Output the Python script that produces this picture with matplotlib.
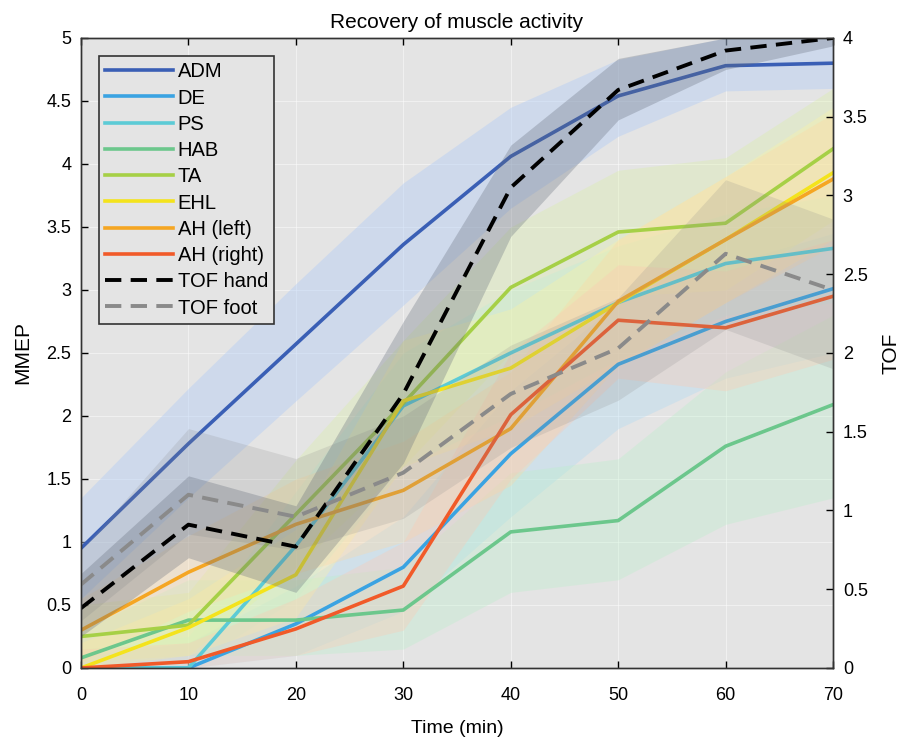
import matplotlib
matplotlib.use("Agg")
import matplotlib.pyplot as plt
import numpy as np

plt.rcParams['font.family'] = ['Liberation Sans', 'DejaVu Sans']

time = [0, 10, 20, 30, 40, 50, 60, 70]

# MMEP series (left axis)
adm = [0.95, 1.78, 2.57, 3.36, 4.06, 4.54, 4.78, 4.80]
de = [0.0, 0.0, 0.35, 0.80, 1.70, 2.41, 2.75, 3.01]
ps = [0.0, 0.0, 0.97, 2.08, 2.50, 2.90, 3.21, 3.33]
hab = [0.08, 0.38, 0.38, 0.46, 1.08, 1.17, 1.76, 2.09]
ta = [0.25, 0.34, 1.22, 2.10, 3.02, 3.46, 3.53, 4.12]
ehl = [0.0, 0.32, 0.74, 2.12, 2.38, 2.90, 3.40, 3.93]
ah_left = [0.30, 0.76, 1.14, 1.41, 1.90, 2.91, 3.40, 3.88]
ah_right = [0.0, 0.05, 0.31, 0.65, 2.01, 2.76, 2.70, 2.95]

# MMEP spread bands
adm_lo = [0.55, 1.35, 2.12, 2.88, 3.65, 4.22, 4.58, 4.60]
adm_hi = [1.35, 2.22, 3.05, 3.85, 4.45, 4.83, 5.00, 5.00]
de_lo = [0.0, 0.0, 0.10, 0.45, 1.20, 1.90, 2.30, 2.50]
de_hi = [0.10, 0.20, 0.65, 1.20, 2.20, 2.90, 3.20, 3.45]
ps_lo = [0.0, 0.0, 0.55, 1.60, 2.00, 2.45, 2.80, 2.90]
ps_hi = [0.15, 0.25, 1.40, 2.50, 3.00, 3.35, 3.60, 3.75]
hab_lo = [0.0, 0.10, 0.10, 0.15, 0.60, 0.70, 1.14, 1.35]
hab_hi = [0.30, 0.70, 0.70, 0.80, 1.55, 1.66, 2.35, 2.80]
ta_lo = [0.05, 0.10, 0.80, 1.60, 2.50, 2.95, 3.00, 3.55]
ta_hi = [0.50, 0.60, 1.65, 2.60, 3.50, 3.95, 4.05, 4.60]
ehl_lo = [0.0, 0.10, 0.40, 1.60, 1.90, 2.40, 2.90, 3.40]
ehl_hi = [0.20, 0.55, 1.10, 2.60, 2.85, 3.40, 3.90, 4.45]
ahl_lo = [0.05, 0.45, 0.75, 1.00, 1.45, 2.40, 2.90, 3.35]
ahl_hi = [0.55, 1.05, 1.50, 1.80, 2.35, 3.40, 3.90, 4.40]
ahr_lo = [0.0, 0.0, 0.10, 0.30, 1.50, 2.30, 2.20, 2.45]
ahr_hi = [0.15, 0.20, 0.55, 1.00, 2.50, 3.20, 3.15, 3.40]

# TOF series (right axis)
tof_hand = [0.38, 0.91, 0.77, 1.74, 3.05, 3.67, 3.92, 4.00]
tof_foot = [0.53, 1.10, 0.96, 1.24, 1.74, 2.03, 2.63, 2.40]
hand_lo = [0.20, 0.70, 0.48, 1.30, 2.74, 3.48, 3.80, 3.95]
hand_hi = [0.60, 1.22, 1.03, 2.20, 3.32, 3.87, 4.00, 4.00]
foot_lo = [0.30, 0.85, 0.75, 0.95, 1.40, 1.70, 2.15, 1.90]
foot_hi = [0.75, 1.52, 1.33, 1.60, 2.05, 2.35, 3.10, 2.85]

labels = ['ADM', 'DE', 'PS', 'HAB', 'TA', 'EHL', 'AH (left)', 'AH (right)', 'TOF hand', 'TOF foot']
colors = ['#3a5fb5', '#3aa3e2', '#5ccbd6', '#6cc78c', '#a6d046', '#f4e31c', '#f5a623', '#f15a29', '#000000', '#8a8a8a']
band_colors = ['#b4cdf5', '#a8d8f5', '#b0ecf0', '#b8f0c8', '#d8f0a0', '#fff5a0', '#ffd8a0', '#ffc8b0']

mmep = [adm, de, ps, hab, ta, ehl, ah_left, ah_right]
mmep_lo = [adm_lo, de_lo, ps_lo, hab_lo, ta_lo, ehl_lo, ahl_lo, ahr_lo]
mmep_hi = [adm_hi, de_hi, ps_hi, hab_hi, ta_hi, ehl_hi, ahl_hi, ahr_hi]

bg = '#e4e4e4'
fig = plt.figure(figsize=(9, 7.39), dpi=100)
ax = fig.add_axes([0.09, 0.0961, 0.8356, 0.8525])
ax.set_facecolor(bg)
ax2 = ax.twinx()

handles = []
for i, (lo, hi, bc) in enumerate(zip(mmep_lo, mmep_hi, band_colors)):
    ax.fill_between(time, lo, hi, color=bc, alpha=0.45 if i == 0 else 0.32, linewidth=0)
for vals, c, lab in zip(mmep, colors[:8], labels[:8]):
    h, = ax.plot(time, vals, color=c, lw=2.6, label=lab)
    handles.append(h)

ax2.fill_between(time, foot_lo, foot_hi, color='#8c8c8c', alpha=0.2, linewidth=0)
ax2.fill_between(time, hand_lo, hand_hi, color='#626a78', alpha=0.3, linewidth=0)
h1, = ax2.plot(time, tof_hand, color=colors[8], lw=2.8, dashes=(4.2, 2.4), label=labels[8])
h2, = ax2.plot(time, tof_foot, color=colors[9], lw=2.8, dashes=(4.2, 2.4), label=labels[9])
handles += [h1, h2]

ax.set_xlim(0, 70)
ax.set_ylim(0, 5)
ax2.set_ylim(0, 4)
ax.set_xticks(time)
ax.set_yticks(np.arange(0, 5.01, 0.5))
ax.set_yticklabels(['0', '0.5', '1', '1.5', '2', '2.5', '3', '3.5', '4', '4.5', '5'])
ax2.set_yticks(np.arange(0, 4.01, 0.5))
ax2.set_yticklabels(['0', '0.5', '1', '1.5', '2', '2.5', '3', '3.5', '4'])

ax.grid(True, color='white', lw=0.8, alpha=0.45)
ax.set_axisbelow(True)
ax.tick_params(axis='x', direction='in', labelsize=13, length=5, top=True, width=1, pad=14)
ax.tick_params(axis='y', direction='in', labelsize=13, length=5, right=False, width=1, pad=7)
ax2.tick_params(axis='y', direction='in', labelsize=13, length=5, width=1, pad=7)
for a in (ax, ax2):
    for s in a.spines.values():
        s.set_color('#333333')
        s.set_linewidth(1.0)

ax.set_xlabel('Time (min)', fontsize=14)
ax.xaxis.set_label_coords(0.5, -0.082)
ax.set_ylabel('MMEP', fontsize=15)
ax.yaxis.set_label_coords(-0.065, 0.5)
ax2.set_ylabel('TOF', fontsize=15)
ax2.yaxis.set_label_coords(1.064, 0.5)
ax.set_title('Recovery of muscle activity', fontsize=15, pad=7)

leg = ax2.legend(handles=handles, labels=labels, loc='upper left',
                 bbox_to_anchor=(0.024, 0.971), borderaxespad=0,
                 fontsize=14.5, handlelength=3.35, labelspacing=0.36,
                 fancybox=False, framealpha=1, facecolor=bg, edgecolor='#333333',
                 borderpad=0.3, handletextpad=0.25)
leg.get_frame().set_linewidth(1.2)

fig.savefig('out.png', dpi=100)
